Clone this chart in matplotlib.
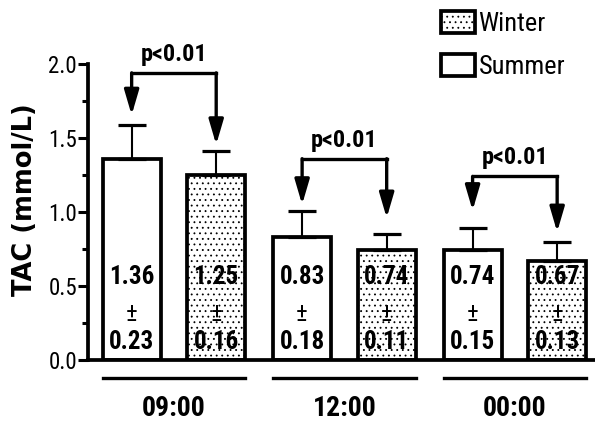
import matplotlib
matplotlib.use("Agg")
import matplotlib.pyplot as plt
import numpy as np

# ---- data ----
groups = ["09:00", "12:00", "00:00"]
summer_mean = [1.36, 0.83, 0.74]
summer_sd = [0.23, 0.18, 0.15]
winter_mean = [1.25, 0.74, 0.67]
winter_sd = [0.16, 0.11, 0.13]
p_labels = ["p<0.01", "p<0.01", "p<0.01"]
yticks = [0.0, 0.5, 1.0, 1.5, 2.0]

# ---- layout (not data) ----
tip_gap_summer = [0.065, 0.04, 0.12]
tip_gap_winter = [0.045, 0.11, 0.065]
bracket_gap = 0.35

NARROW = ["Roboto Condensed", "DejaVu Sans"]
plt.rcParams["hatch.color"] = "#666666"
plt.rcParams["hatch.linewidth"] = 0.6

fig = plt.figure(figsize=(5.95, 4.24), dpi=100)
ax = fig.add_axes([88 / 595, 64 / 424, 507 / 595, 296 / 424])

x = np.arange(len(groups))
off = 0.248
w = 0.34
xs = x - off
xw = x + off

b_s = ax.bar(xs, summer_mean, w, color="white", edgecolor="black", linewidth=2.7, zorder=2)
b_w = ax.bar(xw, winter_mean, w, color="white", edgecolor="black", linewidth=2.7,
             hatch="...", zorder=2)

for xx, m, s in ((xs, summer_mean, summer_sd), (xw, winter_mean, winter_sd)):
    ax.errorbar(xx, m, yerr=[np.zeros(len(m)), s], fmt="none", ecolor="black",
                elinewidth=1.5, capsize=10.4, capthick=2.3, zorder=3)

# values inside bars
for xx, m, s in ((xs, summer_mean, summer_sd), (xw, winter_mean, winter_sd)):
    for xi, mi, si in zip(xx, m, s):
        ax.text(xi, 0.56, f"{mi:.2f}", ha="center", va="center", fontsize=18,
                fontweight="bold", family=NARROW, zorder=4)
        ax.text(xi, 0.31, "±", ha="center", va="center", fontsize=18,
                family=NARROW, zorder=4)
        ax.text(xi, 0.12, f"{si:.2f}", ha="center", va="center", fontsize=18,
                fontweight="bold", family=NARROW, zorder=4)

# significance brackets
for i in range(len(groups)):
    top_s = summer_mean[i] + summer_sd[i]
    top_w = winter_mean[i] + winter_sd[i]
    yb = max(top_s, top_w) + bracket_gap
    ax.plot([xs[i], xw[i]], [yb, yb], color="black", lw=2.4,
            solid_capstyle="projecting", clip_on=False, zorder=5)
    for xi, tip in ((xs[i], top_s + tip_gap_summer[i]), (xw[i], top_w + tip_gap_winter[i])):
        ax.annotate("", xy=(xi, tip), xytext=(xi, yb),
                    arrowprops=dict(arrowstyle="-|>,head_length=0.75,head_width=0.22",
                                    lw=2.4, color="black", shrinkA=0, shrinkB=0,
                                    mutation_scale=20),
                    annotation_clip=False, zorder=5)
    ax.text(x[i], yb + 0.125, p_labels[i], ha="center", va="center", fontsize=17.5,
            fontweight="bold", family=NARROW, clip_on=False)

# group underlines and labels
trans = ax.get_xaxis_transform()
for i, g in enumerate(groups):
    ax.plot([xs[i] - w / 2, xw[i] + w / 2], [-0.061, -0.061], color="black", lw=2.4,
            transform=trans, clip_on=False)
    ax.text(x[i], -0.165, g, ha="center", va="center", fontsize=20,
            fontweight="bold", family=NARROW, transform=trans)

ax.set_xlim(-0.504, 2.47)
ax.set_ylim(0, 2.0)
ax.set_xticks([])
ax.set_yticks(yticks)
ax.set_yticklabels([f"{t:.1f}" for t in yticks], family=NARROW, fontsize=16.5)
ax.set_yticks(np.arange(0.25, 2.0, 0.5), minor=True)
ax.tick_params(axis="y", which="major", length=7, width=2.2, pad=1)
ax.tick_params(axis="y", which="minor", length=4, width=2.2)
for sp in ("top", "right"):
    ax.spines[sp].set_visible(False)
ax.spines["left"].set_linewidth(2.7)
ax.spines["bottom"].set_linewidth(2.7)

fig.text(25 / 595, 1 - 200 / 424, "TAC (mmol/L)", rotation=90, ha="center", va="center",
         fontsize=18.5, fontweight="bold", family="DejaVu Sans")

ax.legend([b_w, b_s], ["Winter", "Summer"], loc="upper left",
          bbox_to_anchor=(441 / 595, 1 - 11 / 424), bbox_transform=fig.transFigure,
          frameon=False, borderpad=0, borderaxespad=0, handlelength=1.3,
          handleheight=0.9, handletextpad=0.12, labelspacing=0.68,
          prop=dict(family=NARROW, size=19))

fig.savefig("out.png", dpi=100)
